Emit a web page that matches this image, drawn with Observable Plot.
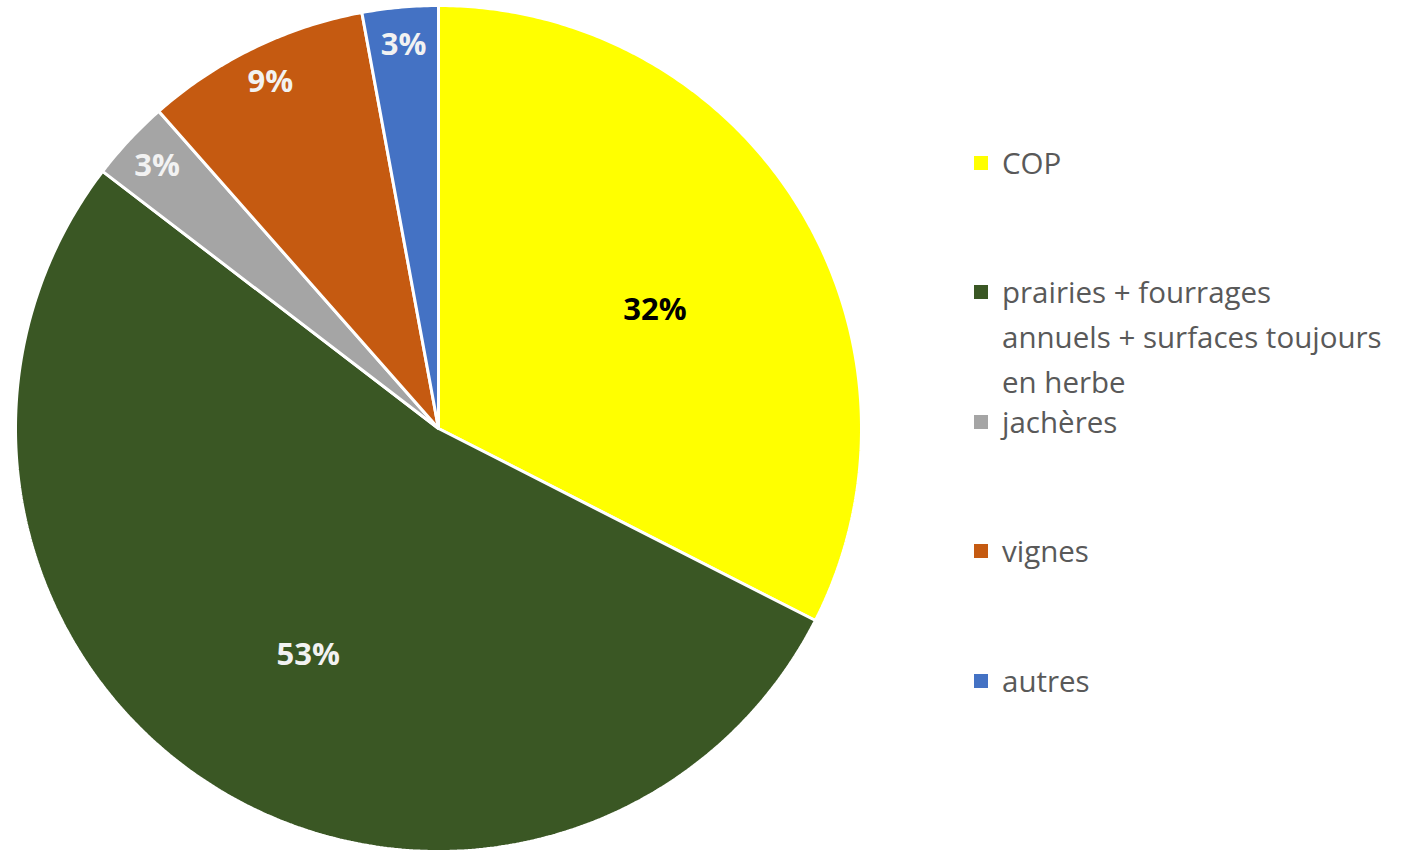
<!DOCTYPE html>
<html><head><meta charset="utf-8">
<script src="https://cdn.jsdelivr.net/npm/d3@7"></script>
<script src="https://cdn.jsdelivr.net/npm/@observablehq/plot@0.6"></script>
<style>
body{margin:0;background:#fff;}
#wrap{position:relative;width:1423px;height:852px;overflow:hidden;}
#legend{position:absolute;left:974px;top:0;font-family:"Open Sans",sans-serif;font-size:29.5px;color:#595959;}
.sw{position:absolute;left:0;width:14px;height:14px;}
.lab{position:absolute;left:28px;white-space:nowrap;height:34px;line-height:34px;}
</style></head>
<body><div id="wrap"><div id="chart"></div><div id="legend"></div></div>
<script>
const categories = ["COP", "prairies + fourrages annuels + surfaces toujours en herbe", "jachères", "vignes", "autres"];
const legendLines = [["COP"], ["prairies + fourrages", "annuels + surfaces toujours", "en herbe"], ["jachères"], ["vignes"], ["autres"]];
const values = [32.5, 52.9, 3.1, 8.6, 2.9];
const percentLabels = ["32%", "53%", "3%", "9%", "3%"];
const colors = ["#FFFF00", "#3A5724", "#A5A5A5", "#C55A11", "#4472C4"];
const labelColors = ["#000000", "#F2F2F2", "#F2F2F2", "#F2F2F2", "#F2F2F2"];

const total = d3.sum(values);
let acc = 0;
const slices = values.map((v, i) => {
  const a0 = acc / total * 2 * Math.PI;
  acc += v;
  const a1 = acc / total * 2 * Math.PI;
  return {name: categories[i], a0, a1, value: v, i};
});
const pts = [];
for (const s of slices) {
  pts.push({name: s.name, x: 0, y: 0});
  const n = Math.max(4, Math.ceil((s.a1 - s.a0) / (Math.PI / 360)));
  for (let k = 0; k <= n; k++) {
    const a = s.a0 + (s.a1 - s.a0) * k / n;
    pts.push({name: s.name, x: Math.sin(a), y: Math.cos(a)});
  }
}
const labels = slices.map(s => {
  const m = (s.a0 + s.a1) / 2;
  const big = s.value > 20;
  const r = big ? 0.6 : 0.91;
  return {x: r * Math.sin(m), y: r * Math.cos(m), text: percentLabels[s.i], color: labelColors[s.i], big};
});

const textOpts = {x: "x", y: "y", text: "text", fontSize: 31, fontWeight: "bold", fontFamily: "Open Sans"};
const chart = Plot.plot({
  width: 1423, height: 852,
  x: {domain: [-1, 1], range: [15, 861], axis: null},
  y: {domain: [-1, 1], range: [851, 5], axis: null},
  color: {domain: categories, range: colors},
  marks: [
    Plot.line(pts, {x: "x", y: "y", z: "name", fill: "name", stroke: "white", strokeWidth: 3, strokeLinejoin: "miter", curve: "linear-closed"}),
    Plot.text(labels.filter(d => d.color === "#000000"), {...textOpts, fill: "#000000", dy: 14}),
    Plot.text(labels.filter(d => d.color !== "#000000" && d.big), {...textOpts, fill: "#F2F2F2", dy: 12, dx: 5}),
    Plot.text(labels.filter(d => d.color !== "#000000" && !d.big), {...textOpts, fill: "#F2F2F2"})
  ]
});
document.getElementById("chart").appendChild(chart);

const legendTops = [163, 292, 422, 551, 681];
const leg = document.getElementById("legend");
legendLines.forEach((lines, i) => {
  const sw = document.createElement("div");
  sw.className = "sw";
  sw.style.background = colors[i];
  sw.style.top = (legendTops[i] - 7) + "px";
  leg.appendChild(sw);
  lines.forEach((line, j) => {
    const lab = document.createElement("div");
    lab.className = "lab";
    lab.style.top = (legendTops[i] + 45 * j - 17) + "px";
    lab.textContent = line;
    leg.appendChild(lab);
  });
});
</script></body></html>
